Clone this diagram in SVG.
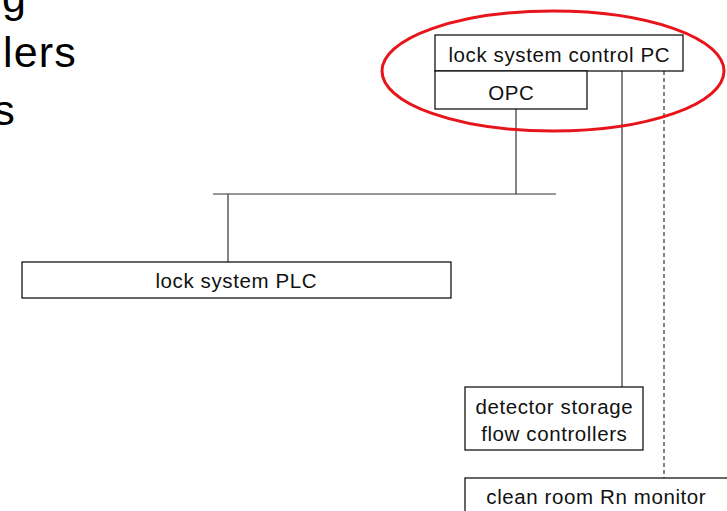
<svg xmlns="http://www.w3.org/2000/svg" width="727" height="511" viewBox="0 0 727 511">
<style>
.box{fill:#fff;stroke:#000;stroke-width:1.2}
.t{font-family:"Liberation Sans",Arial,sans-serif;font-size:20.5px;letter-spacing:0.6px;fill:#111;text-anchor:middle}
.title{font-family:"Liberation Sans",Arial,sans-serif;font-size:43px;letter-spacing:1.2px;fill:#000;text-anchor:end}
.ln{stroke:#333;stroke-width:1.2;fill:none}
</style>
<rect width="727" height="511" fill="#fff"/>
<g id="title">
<text class="title" x="27" y="12">g</text>
<text class="title" x="77" y="67">lers</text>
<text class="title" x="16" y="125">s</text>
</g>
<g id="connectors">
<line class="ln" x1="516" y1="109" x2="516" y2="194"/>
<line class="ln" x1="213" y1="194" x2="556" y2="194"/>
<line class="ln" x1="228" y1="194" x2="228" y2="262"/>
<line class="ln" x1="622" y1="71" x2="622" y2="387"/>
<line class="ln" x1="664" y1="71" x2="664" y2="478" stroke-dasharray="4,3"/>
</g>
<g id="pc">
<rect class="box" x="435" y="35" width="248" height="36"/>
<text class="t" x="559.3" y="61.5">lock system control PC</text>
</g>
<g id="opc">
<rect class="box" x="435" y="71" width="152" height="38"/>
<text class="t" x="511.3" y="99.5">OPC</text>
</g>
<g id="plc">
<rect class="box" x="22" y="262" width="429" height="36"/>
<text class="t" x="236.3" y="287.5">lock system PLC</text>
</g>
<g id="detector">
<rect class="box" x="465" y="387" width="178" height="63"/>
<text class="t" x="554.3" y="413.5">detector storage</text>
<text class="t" x="554.3" y="440.5">flow controllers</text>
</g>
<g id="rn">
<rect class="box" x="465" y="478" width="270" height="40"/>
<text class="t" x="596.3" y="503.5">clean room Rn monitor</text>
</g>
<ellipse id="highlight" cx="553" cy="71" rx="171" ry="60" fill="none" stroke="#e8141b" stroke-width="3"/>
</svg>
